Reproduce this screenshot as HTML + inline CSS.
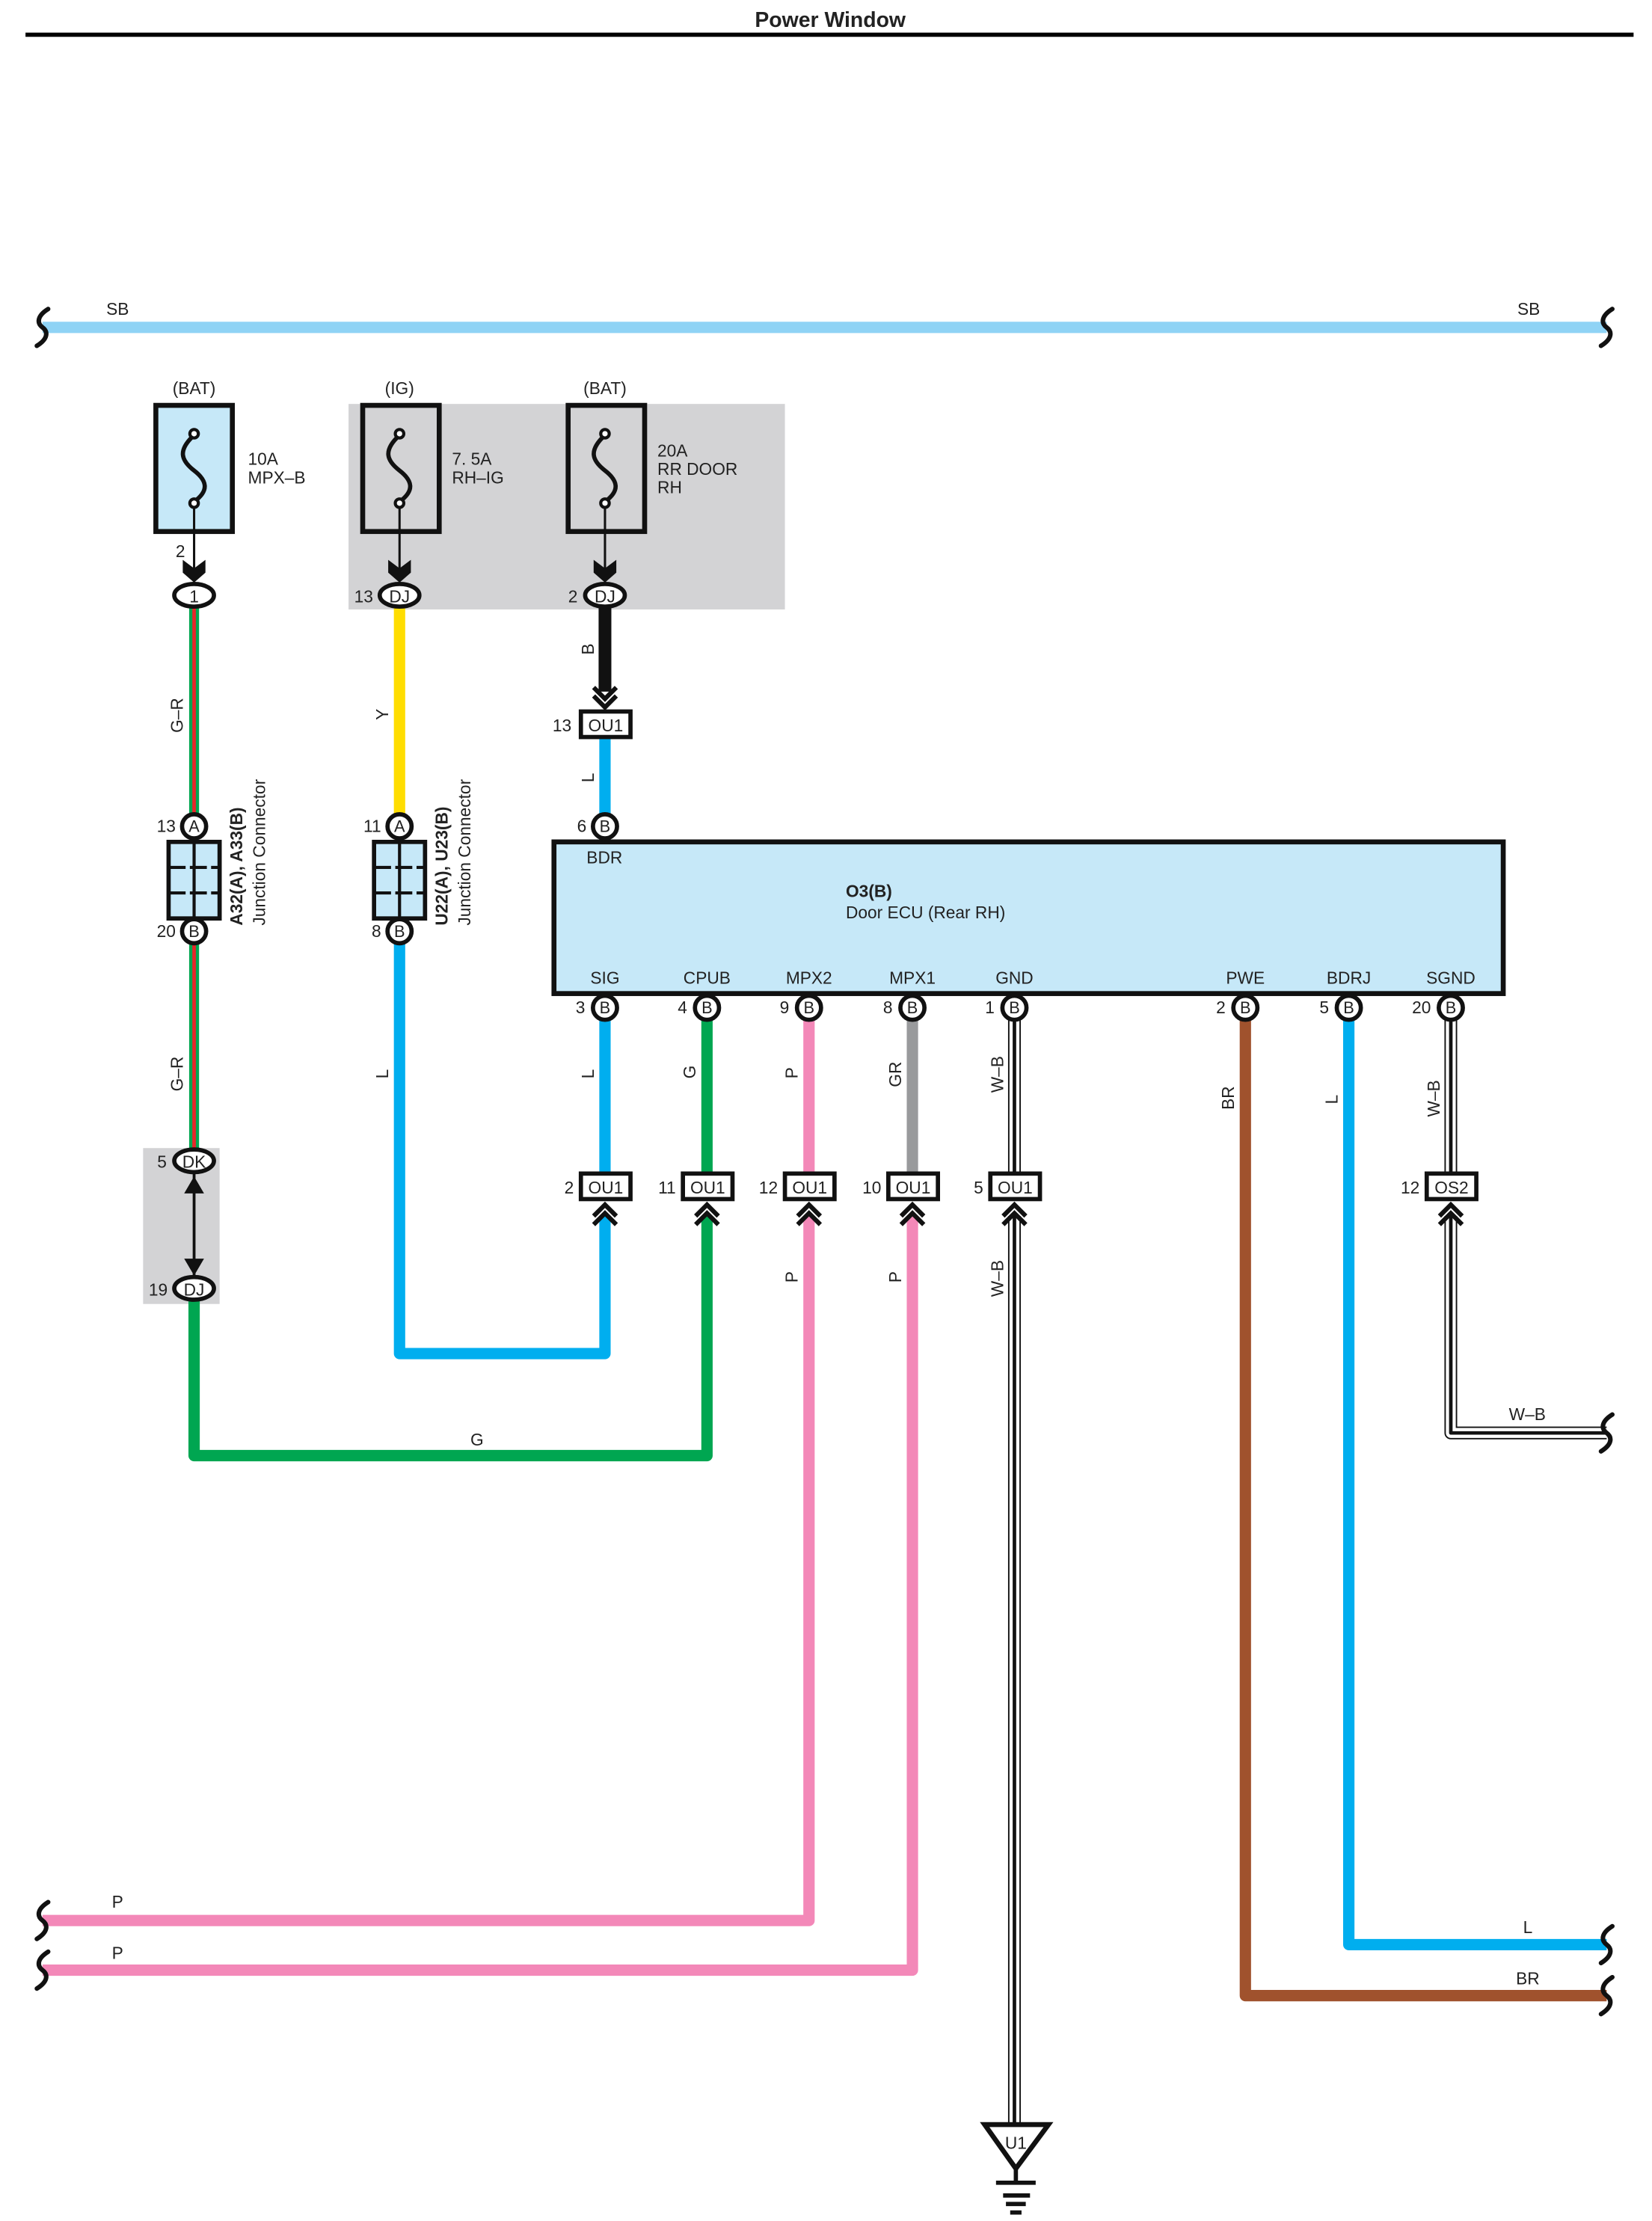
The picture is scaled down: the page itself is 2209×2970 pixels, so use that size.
<!DOCTYPE html>
<html><head><meta charset="utf-8"><style>html,body{margin:0;padding:0;background:#fff}svg{display:block}text{font-family:"Liberation Sans",sans-serif;fill:#222}</style></head>
<body>
<svg width="2209" height="2970" viewBox="0 0 1166 1567" preserveAspectRatio="none" xmlns="http://www.w3.org/2000/svg">
<defs>
<g id="sq"><path d="M4,-13 C-4,-8 -4,-3 0,0 C4,3 4,8 -4,13" fill="none" stroke="#111" stroke-width="3.2" stroke-linecap="round"/></g>
<g id="chev"><path d="M-8,8 L0,0 L8,8 M-8,14 L0,6 L8,14" fill="none" stroke="#111" stroke-width="3.2"/></g>
<g id="chevd"><path d="M-8,-8 L0,0 L8,-8 M-8,-14 L0,-6 L8,-14" fill="none" stroke="#111" stroke-width="3.2"/></g>
</defs>
<text x="586" y="19" font-size="15" font-weight="bold" text-anchor="middle" fill="#000">Power Window</text>
<line x1="18" y1="24.5" x2="1153" y2="24.5" stroke="#000" stroke-width="3"/>

<!-- SB bus -->
<line x1="30" y1="231" x2="1134" y2="231" stroke="#8fd3f5" stroke-width="8"/>
<use href="#sq" x="30" y="231"/><use href="#sq" x="1134" y="231"/>
<text x="75" y="222" font-size="12">SB</text><text x="1071" y="222" font-size="12">SB</text>

<!-- gray areas -->
<rect x="246" y="285" width="308" height="145" fill="#d3d3d5"/>
<rect x="101" y="810" width="54" height="110" fill="#d3d3d5"/>

<!-- fuses -->
<g stroke="#111" stroke-width="3.5">
<rect x="110" y="286" width="54" height="89" fill="#c6e8f8"/>
<rect x="256" y="286" width="54" height="89" fill="none"/>
<rect x="401" y="286" width="54" height="89" fill="none"/>
</g>
<g fill="none" stroke="#111" stroke-width="3">
<path d="M137,307 C125,318 128,325 137,332 C146,339 148,346 137,354"/>
<path d="M282,307 C270,318 273,325 282,332 C291,339 293,346 282,354"/>
<path d="M427,307 C415,318 418,325 427,332 C436,339 438,346 427,354"/>
</g>
<g fill="#fff" stroke="#111" stroke-width="2.2">
<circle cx="137" cy="306" r="3"/><circle cx="137" cy="355" r="3"/>
<circle cx="282" cy="306" r="3"/><circle cx="282" cy="355" r="3"/>
<circle cx="427" cy="306" r="3"/><circle cx="427" cy="355" r="3"/>
</g>
<g stroke="#111" stroke-width="1.6"><line x1="137" y1="358" x2="137" y2="402"/><line x1="282" y1="358" x2="282" y2="402"/><line x1="427" y1="358" x2="427" y2="402"/></g>
<g fill="#111"><path d="M129,395 L137,401 L145,395 L145,404 L137,411 L129,404Z"/><path d="M274,395 L282,401 L290,395 L290,404 L282,411 L274,404Z"/><path d="M419,395 L427,401 L435,395 L435,404 L427,411 L419,404Z"/></g>
<g font-size="12">
<text x="137" y="278" text-anchor="middle">(BAT)</text><text x="282" y="278" text-anchor="middle">(IG)</text><text x="427" y="278" text-anchor="middle">(BAT)</text>
<text x="175" y="328">10A</text><text x="175" y="341">MPX–B</text>
<text x="319" y="328">7. 5A</text><text x="319" y="341">RH–IG</text>
<text x="464" y="322">20A</text><text x="464" y="335">RR DOOR</text><text x="464" y="348">RH</text>
<text x="124" y="393">2</text>
</g>

<!-- wires -->
<g fill="none" stroke-linejoin="round">
<!-- G-R -->
<line x1="137" y1="428" x2="137" y2="575" stroke="#00a651" stroke-width="7"/>
<line x1="137" y1="428" x2="137" y2="575" stroke="#e8262a" stroke-width="2.5"/>
<line x1="137" y1="665" x2="137" y2="811" stroke="#00a651" stroke-width="7"/>
<line x1="137" y1="665" x2="137" y2="811" stroke="#e8262a" stroke-width="2.5"/>
<!-- Y -->
<line x1="282" y1="428" x2="282" y2="575" stroke="#ffdd00" stroke-width="8"/>
<!-- B -->
<line x1="427" y1="428" x2="427" y2="488" stroke="#111" stroke-width="9"/>
<!-- L -->
<line x1="427" y1="520" x2="427" y2="575" stroke="#00aeef" stroke-width="8"/>
<!-- L from U23 -->
<path d="M282,665 V955 H427 V858" stroke="#00aeef" stroke-width="8"/>
<line x1="427" y1="719" x2="427" y2="829" stroke="#00aeef" stroke-width="8"/>
<!-- G -->
<path d="M137,917 V1027 H499 V858" stroke="#00a651" stroke-width="8"/>
<line x1="499" y1="719" x2="499" y2="829" stroke="#00a651" stroke-width="8"/>
<!-- P -->
<line x1="571" y1="719" x2="571" y2="829" stroke="#f388b8" stroke-width="8"/>
<path d="M571,858 V1355 H30" stroke="#f388b8" stroke-width="8"/>
<path d="M644,858 V1390 H30" stroke="#f388b8" stroke-width="8"/>
<line x1="644" y1="719" x2="644" y2="829" stroke="#999a9c" stroke-width="8"/>
<!-- BR -->
<path d="M879,719 V1408 H1134" stroke="#a0522d" stroke-width="8"/>
<!-- L -->
<path d="M952,719 V1372 H1134" stroke="#00aeef" stroke-width="8"/>
<!-- W-B GND -->
<line x1="716" y1="719" x2="716" y2="829" stroke="#111" stroke-width="9"/>
<line x1="716" y1="719" x2="716" y2="829" stroke="#fff" stroke-width="7"/>
<line x1="716" y1="719" x2="716" y2="829" stroke="#111" stroke-width="2.5"/>
<line x1="716" y1="858" x2="716" y2="1500" stroke="#111" stroke-width="9"/>
<line x1="716" y1="858" x2="716" y2="1500" stroke="#fff" stroke-width="7"/>
<line x1="716" y1="858" x2="716" y2="1500" stroke="#111" stroke-width="2.5"/>
<!-- W-B SGND -->
<line x1="1024" y1="719" x2="1024" y2="829" stroke="#111" stroke-width="9"/>
<line x1="1024" y1="719" x2="1024" y2="829" stroke="#fff" stroke-width="7"/>
<line x1="1024" y1="719" x2="1024" y2="829" stroke="#111" stroke-width="2.5"/>
<path d="M1024,858 V1011 H1134" stroke="#111" stroke-width="9"/>
<path d="M1024,858 V1011 H1134" stroke="#fff" stroke-width="7"/>
<path d="M1024,858 V1011 H1134" stroke="#111" stroke-width="2.5"/>
</g>
<!-- squiggles -->
<use href="#sq" x="30" y="1355"/><use href="#sq" x="30" y="1390"/>
<use href="#sq" x="1134" y="1372"/><use href="#sq" x="1134" y="1408"/><use href="#sq" x="1134" y="1011"/>

<!-- B arrow into OU1 -->
<use href="#chevd" x="427" y="499"/>
<rect x="410" y="502" width="35" height="18" fill="#fff" stroke="#111" stroke-width="3"/>
<text x="427.5" y="516" font-size="12" text-anchor="middle">OU1</text>
<text x="390" y="516" font-size="12">13</text>

<!-- DK/DJ -->
<line x1="137" y1="827" x2="137" y2="901" stroke="#111" stroke-width="2"/>
<path d="M130,842 L137,830 L144,842Z M130,888 L137,900 L144,888Z" fill="#111"/>

<!-- oval connectors -->
<g fill="#fff" stroke="#111" stroke-width="3">
<ellipse cx="137" cy="420" rx="14" ry="8"/><ellipse cx="282" cy="420" rx="14" ry="8"/><ellipse cx="427" cy="420" rx="14" ry="8"/>
<ellipse cx="137" cy="819" rx="14" ry="8"/><ellipse cx="137" cy="909" rx="14" ry="8"/>
</g>
<g font-size="12" text-anchor="middle">
<text x="137" y="425">1</text><text x="282" y="425">DJ</text><text x="427" y="425">DJ</text>
<text x="137" y="824">DK</text><text x="137" y="914">DJ</text>
</g>
<g font-size="12"><text x="250" y="425">13</text><text x="401" y="425">2</text><text x="111" y="824">5</text><text x="105" y="914">19</text></g>

<!-- junction connectors -->
<g stroke="#111" stroke-width="3">
<rect x="119" y="594" width="36" height="54" fill="#c6e8f8"/>
<rect x="264" y="594" width="36" height="54" fill="#c6e8f8"/>
</g>
<g stroke="#111" stroke-width="2.2">
<line x1="137" y1="594" x2="137" y2="648"/><line x1="119" y1="612" x2="155" y2="612" stroke-dasharray="12,3"/><line x1="119" y1="630" x2="155" y2="630" stroke-dasharray="12,3"/>
<line x1="282" y1="594" x2="282" y2="648"/><line x1="264" y1="612" x2="300" y2="612" stroke-dasharray="12,3"/><line x1="264" y1="630" x2="300" y2="630" stroke-dasharray="12,3"/>
</g>
<g font-size="12" fill="#222">
<text transform="translate(171,653) rotate(-90)" font-weight="bold">A32(A), A33(B)</text>
<text transform="translate(187,653) rotate(-90)">Junction Connector</text>
<text transform="translate(316,653) rotate(-90)" font-weight="bold">U22(A), U23(B)</text>
<text transform="translate(332,653) rotate(-90)">Junction Connector</text>
</g>

<!-- ECU -->
<rect x="391" y="594" width="670" height="107" fill="#c6e8f8" stroke="#111" stroke-width="3.5"/>
<text x="414" y="609" font-size="12">BDR</text>
<text x="597" y="633" font-size="12" font-weight="bold">O3(B)</text>
<text x="597" y="648" font-size="12">Door ECU (Rear RH)</text>
<g font-size="12" text-anchor="middle">
<text x="427" y="694">SIG</text><text x="499" y="694">CPUB</text><text x="571" y="694">MPX2</text><text x="644" y="694">MPX1</text><text x="716" y="694">GND</text><text x="879" y="694">PWE</text><text x="952" y="694">BDRJ</text><text x="1024" y="694">SGND</text>
</g>

<!-- round pin connectors -->
<g fill="#fff" stroke="#111" stroke-width="3">
<circle cx="137" cy="583" r="8.5"/><circle cx="137" cy="657" r="8.5"/>
<circle cx="282" cy="583" r="8.5"/><circle cx="282" cy="657" r="8.5"/>
<circle cx="427" cy="583" r="8.5"/>
<circle cx="427" cy="711" r="8.5"/><circle cx="499" cy="711" r="8.5"/><circle cx="571" cy="711" r="8.5"/><circle cx="644" cy="711" r="8.5"/><circle cx="716" cy="711" r="8.5"/><circle cx="879" cy="711" r="8.5"/><circle cx="952" cy="711" r="8.5"/><circle cx="1024" cy="711" r="8.5"/>
</g>
<g font-size="11.5" text-anchor="middle">
<text x="137" y="587">A</text><text x="137" y="661">B</text><text x="282" y="587">A</text><text x="282" y="661">B</text><text x="427" y="587">B</text>
<text x="427" y="715">B</text><text x="499" y="715">B</text><text x="571" y="715">B</text><text x="644" y="715">B</text><text x="716" y="715">B</text><text x="879" y="715">B</text><text x="952" y="715">B</text><text x="1024" y="715">B</text>
</g>
<g font-size="12" text-anchor="end">
<text x="124" y="587">13</text><text x="124" y="661">20</text><text x="269" y="587">11</text><text x="269" y="661">8</text><text x="414" y="587">6</text>
<text x="413" y="715">3</text><text x="485" y="715">4</text><text x="557" y="715">9</text><text x="630" y="715">8</text><text x="702" y="715">1</text><text x="865" y="715">2</text><text x="938" y="715">5</text><text x="1010" y="715">20</text>
</g>

<!-- OU1/OS2 boxes -->
<g fill="#fff" stroke="#111" stroke-width="3">
<rect x="410" y="828" width="35" height="18"/><rect x="482" y="828" width="35" height="18"/><rect x="554" y="828" width="35" height="18"/><rect x="627" y="828" width="35" height="18"/><rect x="699" y="828" width="35" height="18"/><rect x="1007" y="828" width="35" height="18"/>
</g>
<g font-size="12" text-anchor="middle">
<text x="427.5" y="842">OU1</text><text x="499.5" y="842">OU1</text><text x="571.5" y="842">OU1</text><text x="644.5" y="842">OU1</text><text x="716.5" y="842">OU1</text><text x="1024.5" y="842">OS2</text>
</g>
<g font-size="12" text-anchor="end">
<text x="405" y="842">2</text><text x="477" y="842">11</text><text x="549" y="842">12</text><text x="622" y="842">10</text><text x="694" y="842">5</text><text x="1002" y="842">12</text>
</g>
<use href="#chev" x="427" y="850"/><use href="#chev" x="499" y="850"/><use href="#chev" x="571" y="850"/><use href="#chev" x="644" y="850"/><use href="#chev" x="716" y="850"/><use href="#chev" x="1024" y="850"/>

<!-- wire labels vertical -->
<g font-size="12">
<text transform="translate(129,517) rotate(-90)">G–R</text>
<text transform="translate(129,770) rotate(-90)">G–R</text>
<text transform="translate(274,508) rotate(-90)">Y</text>
<text transform="translate(419,462) rotate(-90)">B</text>
<text transform="translate(419,552) rotate(-90)">L</text>
<text transform="translate(274,761) rotate(-90)">L</text>
<text transform="translate(419,761) rotate(-90)">L</text>
<text transform="translate(491,761) rotate(-90)">G</text>
<text transform="translate(563,761) rotate(-90)">P</text>
<text transform="translate(636,767) rotate(-90)">GR</text>
<text transform="translate(708,771) rotate(-90)">W–B</text>
<text transform="translate(871,783) rotate(-90)">BR</text>
<text transform="translate(944,779) rotate(-90)">L</text>
<text transform="translate(1016,788) rotate(-90)">W–B</text>
<text transform="translate(563,905) rotate(-90)">P</text>
<text transform="translate(636,905) rotate(-90)">P</text>
<text transform="translate(708,915) rotate(-90)">W–B</text>
</g>
<g font-size="12">
<text x="332" y="1020">G</text>
<text x="1065" y="1002">W–B</text>
<text x="79" y="1346">P</text><text x="79" y="1382">P</text>
<text x="1075" y="1364">L</text><text x="1070" y="1400">BR</text>
</g>

<!-- ground -->
<path d="M695,1499 L740,1499 L717,1530 Z" fill="#fff" stroke="#111" stroke-width="3.5" stroke-linejoin="miter"/>
<text x="717" y="1516" font-size="12" text-anchor="middle">U1</text>
<g stroke="#111" stroke-width="3"><line x1="717" y1="1530" x2="717" y2="1540"/><line x1="703" y1="1540" x2="731" y2="1540"/><line x1="708" y1="1549" x2="727" y2="1549"/><line x1="710" y1="1555" x2="724" y2="1555"/><line x1="713" y1="1561" x2="721" y2="1561"/></g>
</svg>
</body></html>
